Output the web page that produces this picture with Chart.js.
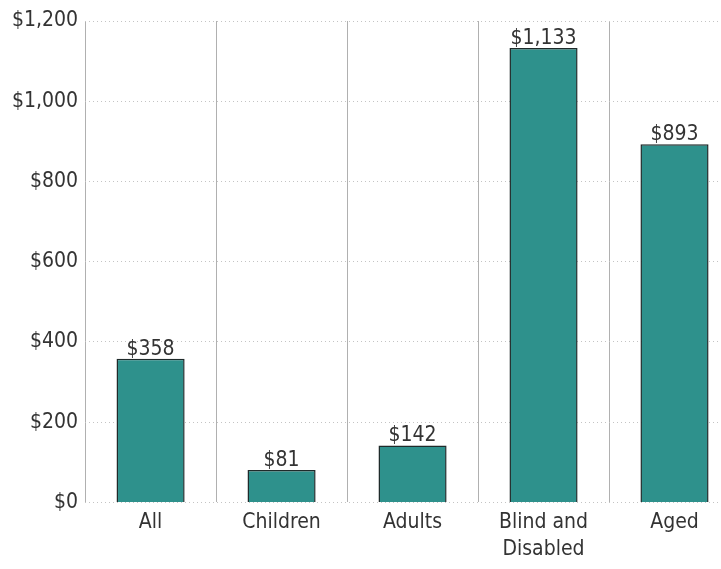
<!DOCTYPE html>
<html>
<head>
<meta charset="utf-8">
<script src="https://cdn.jsdelivr.net/npm/chart.js@4"></script>
<style>
  html, body { margin: 0; padding: 0; overflow: hidden; background: #fff; }
  #wrap { width: 740px; height: 569px; }
</style>
</head>
<body>
<div id="wrap"><canvas id="chart"></canvas></div>
<script>
// categories and values
const categories = ["All", "Children", "Adults", ["Blind and", "Disabled"], "Aged"];
const amounts = [358, 81, 142, 1133, 893];
const yTicks = [0, 200, 400, 600, 800, 1000, 1200];

const fontFamily = "'DejaVu Sans Condensed', 'Liberation Sans Narrow', sans-serif";

function money(v) {
    return "$" + v.toLocaleString("en-US");
}

// draws the value above each bar
const valueLabels = {
    id: "valueLabels",
    afterDatasetsDraw(chart) {
        const ctx = chart.ctx;
        const meta = chart.getDatasetMeta(0);
        ctx.save();
        ctx.font = "21px " + fontFamily;
        ctx.fillStyle = "#333";
        ctx.textAlign = "center";
        ctx.textBaseline = "bottom";
        meta.data.forEach((bar, i) => {
            ctx.fillText(money(amounts[i]), bar.x, bar.y + 1);
        });
        ctx.restore();
    }
};

new Chart("chart", {
    type: "bar",
    data: {
        labels: categories,
        datasets: [{
            data: amounts,
            backgroundColor: "#2e918c",
            borderColor: "#1f2a2a",
            borderWidth: 1.5,
            barPercentage: 0.52,
            categoryPercentage: 1
        }]
    },
    options: {
        responsive: true,
        maintainAspectRatio: false,
        animation: false,
        layout: { padding: { top: 21, left: 5, right: 0, bottom: 0 } },
        plugins: {
            legend: { display: false },
            tooltip: { enabled: false }
        },
        scales: {
            x: {
                offset: true,
                grid: {
                    offset: true,
                    color: "#b0b0b0",
                    lineWidth: 1,
                    drawTicks: false
                },
                border: { display: false },
                ticks: {
                    color: "#333",
                    padding: 6,
                    font: { family: fontFamily, size: 21, lineHeight: 1.3 }
                }
            },
            y: {
                min: 0,
                max: 1200,
                afterBuildTicks(axis) {
                    axis.ticks = yTicks.map(v => ({ value: v }));
                },
                grid: {
                    color: "#c4c4c4",
                    lineWidth: 1,
                    drawTicks: false
                },
                border: { display: false, dash: [1, 3] },
                ticks: {
                    color: "#333",
                    padding: 7,
                    font: { family: fontFamily, size: 21 },
                    callback: v => money(v)
                }
            }
        }
    },
    plugins: [valueLabels]
});
</script>
</body>
</html>
